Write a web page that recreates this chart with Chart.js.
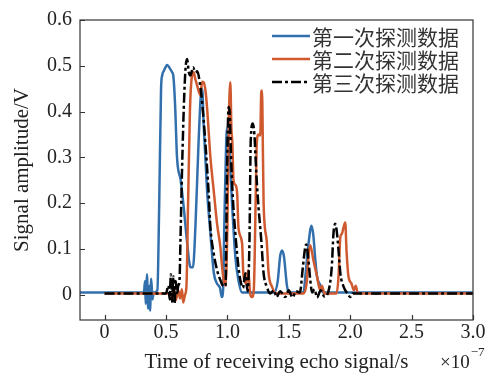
<!DOCTYPE html>
<html>
<head>
<meta charset="utf-8">
<script src="https://cdn.jsdelivr.net/npm/chart.js@4.4.1/dist/chart.umd.min.js"></script>
<style>
  html, body { margin: 0; padding: 0; background: #fff; }
</style>
</head>
<body>
<canvas id="echoChart" width="492" height="376"></canvas>
<script>
// time axis is in units of 1e-7 s
const seriesLabels = ["第一次探测数据", "第二次探测数据", "第三次探测数据"];
const xTicks = [0, 0.5, 1.0, 1.5, 2.0, 2.5, 3.0];
const yTicks = [0, 0.1, 0.2, 0.3, 0.4, 0.5, 0.6];

const blueX = [-0.2, 0.30, 0.32, 0.33, 0.335, 0.345, 0.355, 0.365, 0.37, 0.38, 0.39, 0.40, 0.43, 0.445, 0.46, 0.47, 0.485, 0.51, 0.53, 0.55, 0.56, 0.575, 0.59, 0.62, 0.645, 0.67, 0.70, 0.72, 0.74, 0.765, 0.785, 0.795, 0.807, 0.835, 0.862, 0.89, 0.915, 0.94, 0.955, 0.965, 0.975, 0.99, 1.00, 1.015, 1.04, 1.065, 1.09, 1.12, 1.38, 1.41, 1.43, 1.445, 1.46, 1.485, 1.50, 1.62, 1.635, 1.66, 1.685, 1.70, 1.715, 1.73, 1.755, 1.78, 3.0];
const blueY = [0.005, 0.005, 0.005, 0.03, -0.02, 0.045, -0.03, 0.02, -0.035, 0.035, -0.01, 0.005, 0.01, 0.2, 0.45, 0.48, 0.49, 0.502, 0.495, 0.486, 0.478, 0.41, 0.30, 0.25, 0.19, 0.12, 0.06, 0.06, 0.15, 0.33, 0.44, 0.45, 0.37, 0.227, 0.134, 0.047, 0.025, 0.015, -0.005, 0.01, 0.15, 0.33, 0.365, 0.32, 0.19, 0.083, 0.032, 0.005, 0.005, 0.03, 0.085, 0.097, 0.085, 0.02, 0.005, 0.005, 0.04, 0.11, 0.151, 0.13, 0.08, 0.04, 0.022, 0.005, 0.005];

const orangeX = [0, 0.50, 0.53, 0.55, 0.565, 0.58, 0.60, 0.615, 0.63, 0.64, 0.655, 0.667, 0.68, 0.695, 0.71, 0.725, 0.74, 0.753, 0.78, 0.795, 0.807, 0.822, 0.835, 0.862, 0.889, 0.916, 0.943, 0.957, 0.97, 0.985, 1.0, 1.012, 1.024, 1.033, 1.04, 1.05, 1.065, 1.08, 1.09, 1.12, 1.13, 1.155, 1.17, 1.185, 1.20, 1.215, 1.23, 1.24, 1.254, 1.268, 1.276, 1.282, 1.29, 1.295, 1.32, 1.336, 1.363, 1.40, 1.62, 1.647, 1.66, 1.675, 1.70, 1.73, 1.755, 1.77, 1.79, 1.89, 1.905, 1.92, 1.932, 1.946, 1.96, 1.97, 1.986, 2.01, 2.03, 2.045, 2.06, 2.08, 3.0];
const orangeY = [0.003, 0.003, 0.003, -0.01, 0.015, -0.012, 0.01, -0.008, 0.012, -0.017, 0.0, 0.02, 0.2, 0.40, 0.475, 0.486, 0.47, 0.458, 0.436, 0.465, 0.464, 0.445, 0.407, 0.30, 0.227, 0.155, 0.104, 0.061, 0.032, 0.02, 0.15, 0.38, 0.464, 0.36, 0.335, 0.25, 0.24, 0.22, 0.147, 0.112, 0.047, 0.025, 0.054, 0.004, -0.005, 0.01, 0.2, 0.335, 0.35, 0.348, 0.443, 0.446, 0.3, 0.2, 0.119, 0.047, 0.018, 0.003, 0.003, 0.03, 0.085, 0.108, 0.076, 0.04, 0.01, 0.02, 0.003, 0.003, 0.04, 0.126, 0.133, 0.147, 0.158, 0.097, 0.04, 0.025, 0.01, 0.02, 0.005, 0.003, 0.003];

const blackX = [0, 0.50, 0.52, 0.53, 0.54, 0.55, 0.56, 0.57, 0.58, 0.59, 0.60, 0.61, 0.618, 0.63, 0.645, 0.659, 0.672, 0.686, 0.70, 0.72, 0.74, 0.755, 0.775, 0.794, 0.82, 0.848, 0.862, 0.889, 0.916, 0.943, 0.97, 0.985, 0.997, 1.01, 1.018, 1.03, 1.046, 1.065, 1.09, 1.106, 1.127, 1.146, 1.165, 1.18, 1.19, 1.206, 1.22, 1.236, 1.254, 1.276, 1.295, 1.32, 1.35, 1.38, 1.40, 1.43, 1.47, 1.50, 1.53, 1.56, 1.59, 1.615, 1.634, 1.642, 1.66, 1.675, 1.69, 1.71, 1.73, 1.76, 1.79, 1.82, 1.85, 1.864, 1.878, 1.89, 1.905, 1.92, 1.946, 1.986, 2.0, 2.02, 3.0];
const blackY = [0.003, 0.003, 0.02, -0.01, 0.045, -0.015, 0.04, -0.02, 0.03, 0.0, 0.02, 0.03, 0.119, 0.263, 0.407, 0.493, 0.515, 0.486, 0.479, 0.497, 0.486, 0.488, 0.464, 0.421, 0.335, 0.22, 0.147, 0.09, 0.054, 0.032, 0.018, 0.02, 0.263, 0.41, 0.40, 0.30, 0.205, 0.134, 0.061, 0.032, 0.015, 0.047, 0.008, 0.119, 0.335, 0.374, 0.35, 0.263, 0.19, 0.119, 0.047, 0.018, 0.003, 0.01, -0.005, 0.008, -0.005, 0.01, -0.006, 0.008, 0.005, 0.061, 0.104, 0.11, 0.076, 0.032, 0.005, 0.012, -0.006, 0.01, -0.004, 0.005, 0.061, 0.134, 0.155, 0.14, 0.097, 0.047, 0.018, 0.0, -0.005, 0.003, 0.003];

const serif = '"Liberation Serif", "Times New Roman", serif';
const cjk = '"Noto Sans CJK SC", sans-serif';

function pts(xs, ys) {
    return xs.map((x, i) => ({ x: x, y: ys[i] }));
}

function fmt(v) {
    return v === 0 ? "0" : v.toFixed(1);
}

// frame, inward ticks, legend and the x10^-7 multiplier
const decorPlugin = {
    id: "decor",
    afterDraw(chart) {
        const ctx = chart.ctx;
        const a = chart.chartArea;
        const xs = chart.scales.x, ys = chart.scales.y;
        ctx.save();
        ctx.strokeStyle = "#333";
        ctx.lineWidth = 1.2;
        ctx.strokeRect(a.left, a.top, a.right - a.left, a.bottom - a.top);
        ctx.beginPath();
        xTicks.forEach(v => {
            const px = Math.round(xs.getPixelForValue(v)) + 0.5;
            ctx.moveTo(px, a.bottom);
            ctx.lineTo(px, a.bottom - 5);
        });
        yTicks.forEach(v => {
            const py = Math.round(ys.getPixelForValue(v)) + 0.5;
            ctx.moveTo(a.left, py);
            ctx.lineTo(a.left + 5, py);
        });
        ctx.stroke();

        // legend
        const rows = [36, 59, 82];
        chart.data.datasets.forEach((ds, i) => {
            ctx.beginPath();
            ctx.strokeStyle = ds.borderColor;
            ctx.lineWidth = ds.borderWidth;
            ctx.setLineDash(ds.borderDash || []);
            ctx.moveTo(272, rows[i]);
            ctx.lineTo(310, rows[i]);
            ctx.stroke();
            ctx.setLineDash([]);
            ctx.fillStyle = "#333";
            ctx.font = "21px " + cjk;
            ctx.textBaseline = "middle";
            ctx.textAlign = "left";
            ctx.fillText(ds.label, 312, rows[i] + 1);
        });

        // multiplier
        ctx.fillStyle = "#222";
        ctx.textBaseline = "middle";
        ctx.font = "19px " + serif;
        ctx.fillText("×10", 440, 363);
        const w = ctx.measureText("×10").width;
        ctx.font = "13px " + serif;
        ctx.fillText("−7", 440 + w + 1, 353);
        ctx.restore();
    }
};

new Chart(document.getElementById("echoChart").getContext("2d"), {
    type: "line",
    data: {
        datasets: [
            {
                label: seriesLabels[0],
                data: pts(blueX, blueY),
                borderColor: "#3270ad",
                borderWidth: 2.5,
                order: 3
            },
            {
                label: seriesLabels[1],
                data: pts(orangeX, orangeY),
                borderColor: "#d05a30",
                borderWidth: 2.5,
                order: 2
            },
            {
                label: seriesLabels[2],
                data: pts(blackX, blackY),
                borderColor: "#000000",
                borderWidth: 2.5,
                borderDash: [10, 3, 3, 3],
                order: 1
            }
        ]
    },
    options: {
        responsive: false,
        animation: false,
        layout: { padding: { left: 0, right: 19, top: 17, bottom: 0 } },
        elements: {
            point: { radius: 0 },
            line: { cubicInterpolationMode: "monotone", fill: false }
        },
        plugins: {
            legend: { display: false },
            tooltip: { enabled: false }
        },
        scales: {
            x: {
                type: "linear",
                min: -0.2,
                max: 3.0,
                grid: { display: false, drawTicks: false },
                border: { display: false },
                afterBuildTicks: s => { s.ticks = xTicks.map(v => ({ value: v })); },
                afterFit: s => { s.height = 56; },
                ticks: {
                    autoSkip: false,
                    maxRotation: 0,
                    padding: 1,
                    color: "#222",
                    font: { family: serif, size: 20 },
                    callback: v => fmt(v)
                },
                title: {
                    display: true,
                    text: "Time of receiving echo signal/s",
                    color: "#222",
                    font: { family: serif, size: 21 },
                    padding: { top: 0, bottom: 1 }
                }
            },
            y: {
                type: "linear",
                min: -0.055,
                max: 0.6,
                grid: { display: false, drawTicks: false },
                border: { display: false },
                afterBuildTicks: s => { s.ticks = yTicks.map(v => ({ value: v })); },
                afterFit: s => { s.width = 80; },
                ticks: {
                    padding: 8,
                    color: "#222",
                    font: { family: serif, size: 20 },
                    callback: v => fmt(v)
                },
                title: {
                    display: true,
                    text: "Signal amplitude/V",
                    color: "#222",
                    font: { family: serif, size: 21 },
                    padding: { top: 10, bottom: 0 }
                }
            }
        }
    },
    plugins: [decorPlugin]
});
</script>
</body>
</html>
